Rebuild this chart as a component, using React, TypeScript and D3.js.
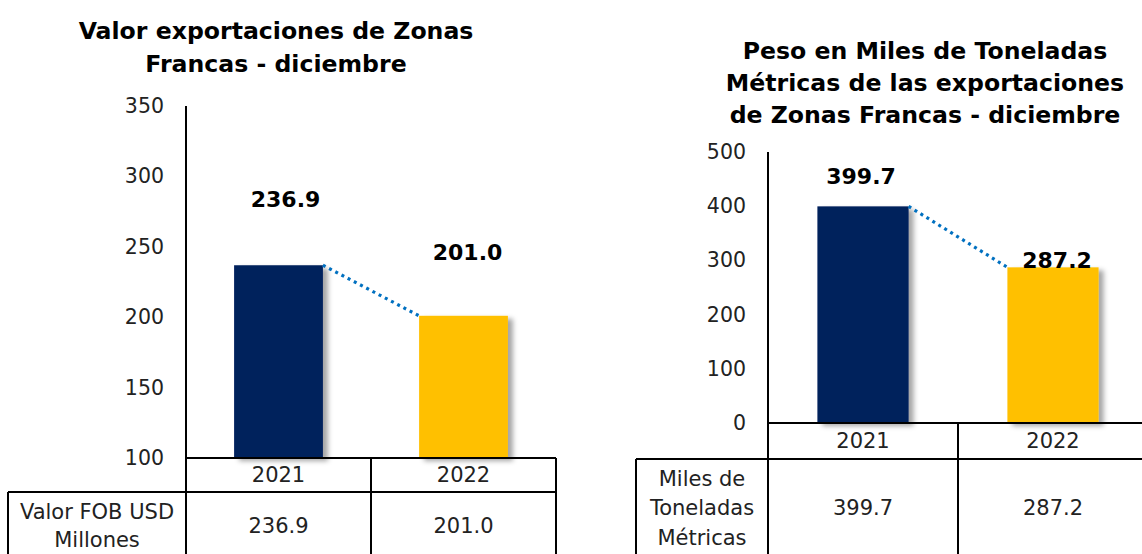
import React, { useEffect, useRef } from "react";
import * as d3 from "d3";

const years = ["2021", "2022"];
const valorFOB = [236.9, 201.0];
const pesoMiles = [399.7, 287.2];
const valorTicks = [100, 150, 200, 250, 300, 350];
const pesoTicks = [0, 100, 200, 300, 400, 500];
const barColors = ["#03205C", "#FFC000"];
const valorTitle = ["Valor exportaciones de Zonas", "Francas - diciembre"];
const pesoTitle = ["Peso en Miles de Toneladas", "Métricas de las exportaciones", "de Zonas Francas - diciembre"];
const valorRowLabel = ["Valor FOB USD", "Millones"];
const pesoRowLabel = ["Miles de", "Toneladas", "Métricas"];

const FONT = "'DejaVu Sans', sans-serif";

type Panel = {
  values: number[];
  ticks: number[];
  title: string[];
  rowLabel: string[];
  x0: number; x1: number; yTop: number; yBase: number;
  headerBottom: number; tableLeft: number; bottom: number;
  titleX: number; titleY: number[];
  labelDy: number[]; labelDx: number[];
  rowLabelY: number[]; valueY: number;
};

const panels: Panel[] = [
  {
    values: valorFOB, ticks: valorTicks, title: valorTitle, rowLabel: valorRowLabel,
    x0: 186, x1: 556, yTop: 106, yBase: 458, headerBottom: 492, tableLeft: 8, bottom: 556,
    titleX: 276, titleY: [39, 72], labelDy: [-58, -56], labelDx: [7, 4],
    rowLabelY: [512, 540], valueY: 526,
  },
  {
    values: pesoMiles, ticks: pesoTicks, title: pesoTitle, rowLabel: pesoRowLabel,
    x0: 768, x1: 1148, yTop: 152, yBase: 423, headerBottom: 459, tableLeft: 636, bottom: 556,
    titleX: 925, titleY: [59, 91, 123], labelDy: [-22, 1], labelDx: [-2, 4],
    rowLabelY: [479, 508, 538], valueY: 508,
  },
];

export default function App() {
  const ref = useRef<SVGSVGElement | null>(null);
  useEffect(() => {
    const svg = d3.select(ref.current);
    svg.selectAll("*").remove();
    const defs = svg.append("defs");
    const f = defs.append("filter").attr("id", "shadow").attr("x", "-20%").attr("y", "-20%").attr("width", "150%").attr("height", "150%");
    f.append("feDropShadow").attr("dx", 5).attr("dy", 3).attr("stdDeviation", 2.5)
      .attr("flood-color", "#000").attr("flood-opacity", 0.35);

    panels.forEach((p) => {
      const g = svg.append("g");
      const y = d3.scaleLinear().domain([p.ticks[0], p.ticks[p.ticks.length - 1]]).range([p.yBase, p.yTop]);
      const cat = d3.scaleBand().domain(years).range([p.x0, p.x1]);
      const bw = cat.bandwidth() * 0.48;
      const barX = (d: string) => (cat(d) as number) + (cat.bandwidth() - bw) / 2;

      // title
      const t = g.append("text").attr("x", p.titleX).attr("text-anchor", "middle")
        .attr("font-family", FONT).attr("font-weight", "bold").attr("font-size", 23.6).attr("fill", "#000");
      p.title.forEach((line, i) => t.append("tspan").attr("x", p.titleX).attr("y", p.titleY[i]).text(line));

      // bars
      g.selectAll("rect.bar").data(p.values).enter().append("rect")
        .attr("x", (_d, i) => barX(years[i]))
        .attr("y", (d) => y(d))
        .attr("width", bw)
        .attr("height", (d) => p.yBase - y(d))
        .attr("fill", (_d, i) => barColors[i])
        .attr("filter", "url(#shadow)");

      // dotted connector
      g.append("line")
        .attr("x1", barX(years[0]) + bw).attr("y1", y(p.values[0]))
        .attr("x2", barX(years[1])).attr("y2", y(p.values[1]))
        .attr("stroke", "#0070C0").attr("stroke-width", 3.2).attr("stroke-dasharray", "3 4");

      // value labels
      g.selectAll("text.lab").data(p.values).enter().append("text")
        .attr("x", (_d, i) => barX(years[i]) + bw / 2 + p.labelDx[i])
        .attr("y", (d, i) => y(d) + p.labelDy[i])
        .attr("text-anchor", "middle").attr("font-family", FONT).attr("font-weight", "bold")
        .attr("font-size", 22).attr("fill", "#000")
        .text((d) => d.toFixed(1));

      // y axis
      const axis = d3.axisLeft(y).tickValues(p.ticks).tickSize(0).tickPadding(22).tickFormat((d) => String(d));
      const ag = g.append("g").attr("transform", `translate(${p.x0},0)`).call(axis);
      ag.select(".domain").remove();
      ag.selectAll("text").attr("font-family", FONT).attr("font-size", 20.5).attr("fill", "#222");

      // lines
      const ln = (x1: number, y1: number, x2: number, y2: number) =>
        g.append("line").attr("x1", x1).attr("y1", y1).attr("x2", x2).attr("y2", y2)
          .attr("stroke", "#000").attr("stroke-width", 2);
      ln(p.x0, p.yTop, p.x0, p.bottom);
      ln(p.x0, p.yBase, p.x1, p.yBase);
      ln(p.tableLeft, p.headerBottom, p.x1, p.headerBottom);
      ln(p.tableLeft, p.headerBottom, p.tableLeft, p.bottom);
      ln(p.x1, p.yBase, p.x1, p.bottom);
      years.forEach((yr, i) => {
        if (i > 0) ln(cat(yr) as number, p.yBase, cat(yr) as number, p.bottom);
      });

      const txt = (x: number, yy: number, s: string) =>
        g.append("text").attr("x", x).attr("y", yy).attr("dy", "0.35em")
          .attr("text-anchor", "middle").attr("font-family", FONT).attr("font-size", 21).attr("fill", "#222")
          .text(s);

      years.forEach((yr) => txt((cat(yr) as number) + cat.bandwidth() / 2, (p.yBase + p.headerBottom) / 2, yr));
      p.rowLabel.forEach((line, i) => txt((p.tableLeft + p.x0) / 2, p.rowLabelY[i], line));
      p.values.forEach((v, i) => txt((cat(years[i]) as number) + cat.bandwidth() / 2, p.valueY, v.toFixed(1)));
    });
  }, []);

  return (
    <div style={{ position: "absolute", left: 0, top: 0 }}>
      <svg ref={ref} width={1142} height={554} style={{ display: "block", background: "#fff" }} />
    </div>
  );
}
